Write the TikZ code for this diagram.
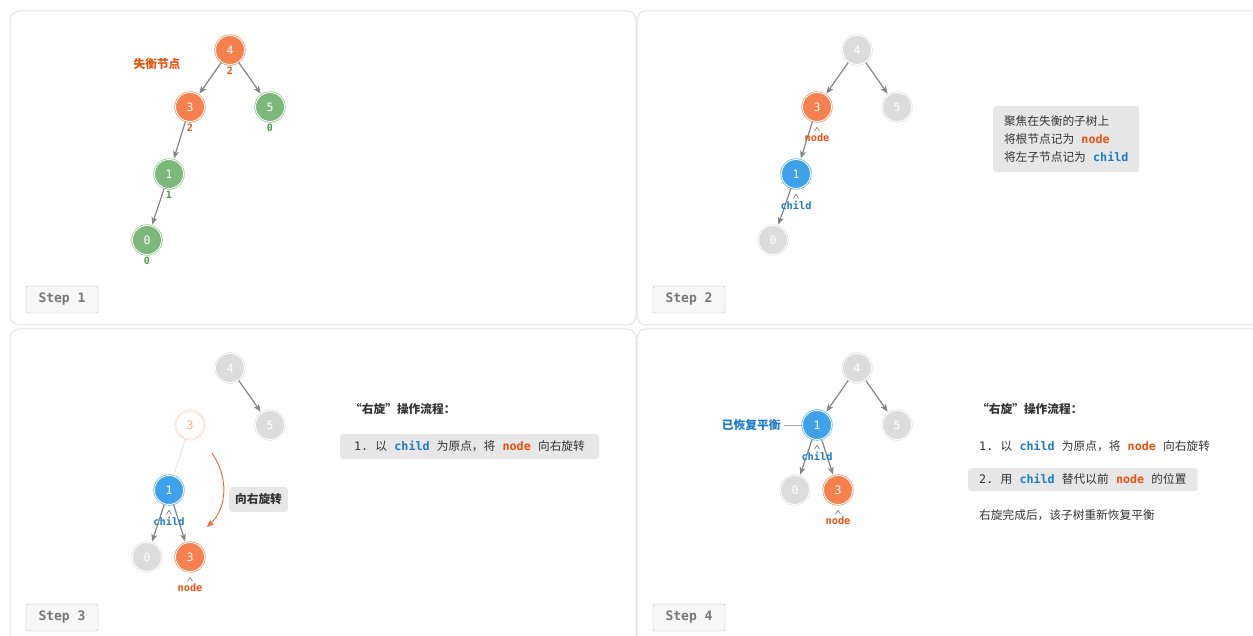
\documentclass[tikz,border=0pt]{standalone}
\usepackage{fontspec}
\setmainfont{Noto Sans CJK SC}
\newfontfamily\mono{DejaVu Sans Mono}
\usetikzlibrary{arrows.meta,positioning}
\definecolor{orgfill}{HTML}{F6804E}
\definecolor{orgtext}{HTML}{E8520F}
\definecolor{grnfill}{HTML}{7DB87B}
\definecolor{grntext}{HTML}{4C984A}
\definecolor{blufill}{HTML}{3FA1EA}
\definecolor{blutext}{HTML}{1C7BC6}
\definecolor{gryfill}{HTML}{DCDCDC}
\definecolor{edgegray}{HTML}{858585}
\definecolor{panelline}{HTML}{E3E3E3}
\definecolor{boxfill}{HTML}{E7E7E7}
\definecolor{textgray}{HTML}{333333}
\definecolor{stepgray}{HTML}{777777}
\newcommand{\kwc}{{\mono\bfseries\color{blutext}child}}
\newcommand{\kwn}{{\mono\bfseries\color{orgtext}node}}
\newcommand{\gp}{\hspace{0.62em}}
\newcommand{\txtsize}{\fontsize{11.7}{18}\selectfont}

\begin{document}
\begin{tikzpicture}[x=1pt,y=-1pt,>={Stealth[length=7.5pt,width=6pt,inset=2pt]},
  tree/.style={circle,minimum size=29pt,inner sep=0pt,fill=#1,draw=#1,double=white,
    double distance=0.9pt,line width=0.6pt,text=white,font=\mono\fontsize{11.5}{11.5}\selectfont},
  ghost/.style={circle,minimum size=29pt,inner sep=0pt,fill=white,draw=orgfill!55,densely dotted,
    double=white,double distance=0.9pt,line width=0.6pt,text=orgfill!65,font=\mono\fontsize{11.5}{11.5}\selectfont},
  edge/.style={->,draw=edgegray,line width=1.2pt,shorten >=1.5pt,shorten <=0.5pt},
  bal/.style={text=#1,font=\mono\bfseries\fontsize{10}{10}\selectfont,inner sep=2pt},
  tag/.style={text=#1,font=\mono\bfseries\fontsize{10.3}{10.3}\selectfont,inner sep=2pt},
  caret/.style={draw=edgegray,line width=0.7pt},
  panel/.style={draw=panelline,line width=1pt,rounded corners=9pt,fill=white},
  stepbox/.style={draw=black!25,fill=black!3,rounded corners=2pt,minimum width=72pt,
    minimum height=27pt,text=stepgray,font=\mono\bfseries\fontsize{13}{13}\selectfont},
  infobox/.style={fill=boxfill,rounded corners=3pt,text=textgray,font=\txtsize},
  plain/.style={text=textgray,font=\txtsize,inner sep=0pt}]
\useasboundingbox (0,0) rectangle (1253,636);
\clip (0,0) rectangle (1253,636);
\fill[white] (0,0) rectangle (1253,636);
% ---------- panels ----------
\draw[panel] (10,11) rectangle (636,325);
\draw[panel] (637,11) rectangle (1263,325);
\draw[panel] (10,329) rectangle (636,646);
\draw[panel] (637,329) rectangle (1263,646);
\foreach \n/\x/\y in {1/62/299.5,2/689/299.5,3/62/617.5,4/689/617.5}
  \node[stepbox] (step\n) at (\x,\y) {Step \n};
% ---------- Step 1: 失衡 ----------
\node[tree=orgfill] (a4) at (230,50) {4};
\node[tree=orgfill] (a3) at (190,107) {3};
\node[tree=grnfill] (a5) at (270,107) {5};
\node[tree=grnfill] (a1) at (169,174) {1};
\node[tree=grnfill] (a0) at (147,240) {0};
\draw[edge] (a4) -- (a3);
\draw[edge] (a4) -- (a5);
\draw[edge] (a3) -- (a1);
\draw[edge] (a1) -- (a0);
\node[bal=orgtext,below=0.5pt of a4] (a4b) {2};
\node[bal=orgtext,below=0.5pt of a3] (a3b) {2};
\node[bal=grntext,below=0.5pt of a5] (a5b) {0};
\node[bal=grntext,below=0.5pt of a1] (a1b) {1};
\node[bal=grntext,below=0.5pt of a0] (a0b) {0};
\node[text=orgtext,font=\txtsize\bfseries] (a4lbl) at (157,64) {失衡节点};
% ---------- Step 2: 标记 node / child ----------
\node[tree=gryfill] (b4) at (857,50) {4};
\node[tree=orgfill] (b3) at (817,107) {3};
\node[tree=gryfill] (b5) at (897,107) {5};
\node[tree=blufill] (b1) at (796,174) {1};
\node[tree=gryfill] (b0) at (773,240) {0};
\draw[edge] (b4) -- (b3);
\draw[edge] (b4) -- (b5);
\draw[edge] (b3) -- (b1);
\draw[edge] (b1) -- (b0);
\node[tag=orgtext,below=10pt of b3] (b3tag) {node};
\draw[caret] (b3tag.north) ++(-2.5,-0.5) -- ++(2.5,-4) -- ++(2.5,4);
\node[tag=blutext,below=10pt of b1] (b1tag) {child};
\draw[caret] (b1tag.north) ++(-2.5,-0.5) -- ++(2.5,-4) -- ++(2.5,4);
\node[infobox,anchor=north west,align=left,minimum width=146pt,minimum height=66pt,
  inner xsep=10pt] (binfo) at (993,106)
  {聚焦在失衡的子树上\\将根节点记为\gp\kwn\\将左子节点记为\gp\kwc};
% ---------- Step 3: 右旋 ----------
\node[tree=gryfill] (c4) at (230,368) {4};
\node[tree=gryfill] (c5) at (270,425) {5};
\node[ghost] (cg3) at (190,425) {3};
\node[tree=blufill] (c1) at (169,490) {1};
\node[tree=gryfill] (c0) at (147,557) {0};
\node[tree=orgfill] (c3) at (190,557) {3};
\draw[edge] (c4) -- (c5);
\draw[draw=black!20,densely dotted,line width=0.8pt] (cg3) -- (c1);
\draw[edge] (c1) -- (c0);
\draw[edge] (c1) -- (c3);
\node[tag=blutext,below=10pt of c1] (c1tag) {child};
\draw[caret] (c1tag.north) ++(-2.5,-0.5) -- ++(2.5,-4) -- ++(2.5,4);
\node[tag=orgtext,below=10pt of c3] (c3tag) {node};
\draw[caret] (c3tag.north) ++(-2.5,-0.5) -- ++(2.5,-4) -- ++(2.5,4);
% 旋转箭头
\coordinate (crotS) at (212,453);
\coordinate (crotE) at (207,527);
\draw[->,draw=orgtext!85,line width=0.9pt] (crotS) .. controls (229,478) and (227,508) .. (crotE);
\node[infobox,font=\txtsize\bfseries,minimum height=25pt,inner xsep=6pt] (crot) at (258.5,499.5) {向右旋转};
\node[plain,anchor=west,font=\txtsize\bfseries] (chead) at (350,409) {“右旋”操作流程：};
\node[infobox,minimum width=259pt,minimum height=25pt] (cstep1) at (469.5,446.5)
  {{\mono 1.}\gp 以\gp\kwc\gp 为原点，将\gp\kwn\gp 向右旋转};
% ---------- Step 4: 恢复平衡 ----------
\node[tree=gryfill] (d4) at (857,368) {4};
\node[tree=blufill] (d1) at (817,425) {1};
\node[tree=gryfill] (d5) at (897,425) {5};
\node[tree=gryfill] (d0) at (795,490) {0};
\node[tree=orgfill] (d3) at (838,490) {3};
\draw[edge] (d4) -- (d1);
\draw[edge] (d4) -- (d5);
\draw[edge] (d1) -- (d0);
\draw[edge] (d1) -- (d3);
\node[tag=blutext,below=10pt of d1] (d1tag) {child};
\draw[caret] (d1tag.north) ++(-2.5,-0.5) -- ++(2.5,-4) -- ++(2.5,4);
\node[tag=orgtext,below=10pt of d3] (d3tag) {node};
\draw[caret] (d3tag.north) ++(-2.5,-0.5) -- ++(2.5,-4) -- ++(2.5,4);
\node[text=blutext,font=\txtsize\bfseries,anchor=east] (dbal) at (784,425) {已恢复平衡};
\draw[draw=black!35,line width=0.6pt] (dbal.east) -- (d1.west);
\node[plain,anchor=west,font=\txtsize\bfseries] (dhead) at (977,409) {“右旋”操作流程：};
\node[plain,anchor=west] (dstep1) at (979,446.5)
  {{\mono 1.}\gp 以\gp\kwc\gp 为原点，将\gp\kwn\gp 向右旋转};
\node[infobox,anchor=west,minimum height=23pt,inner xsep=11pt] (dstep2) at (968,479.5)
  {{\mono 2.}\gp 用\gp\kwc\gp 替代以前\gp\kwn\gp 的位置};
\node[plain,anchor=west] (dend) at (979,515) {右旋完成后，该子树重新恢复平衡};
\end{tikzpicture}
\end{document}
